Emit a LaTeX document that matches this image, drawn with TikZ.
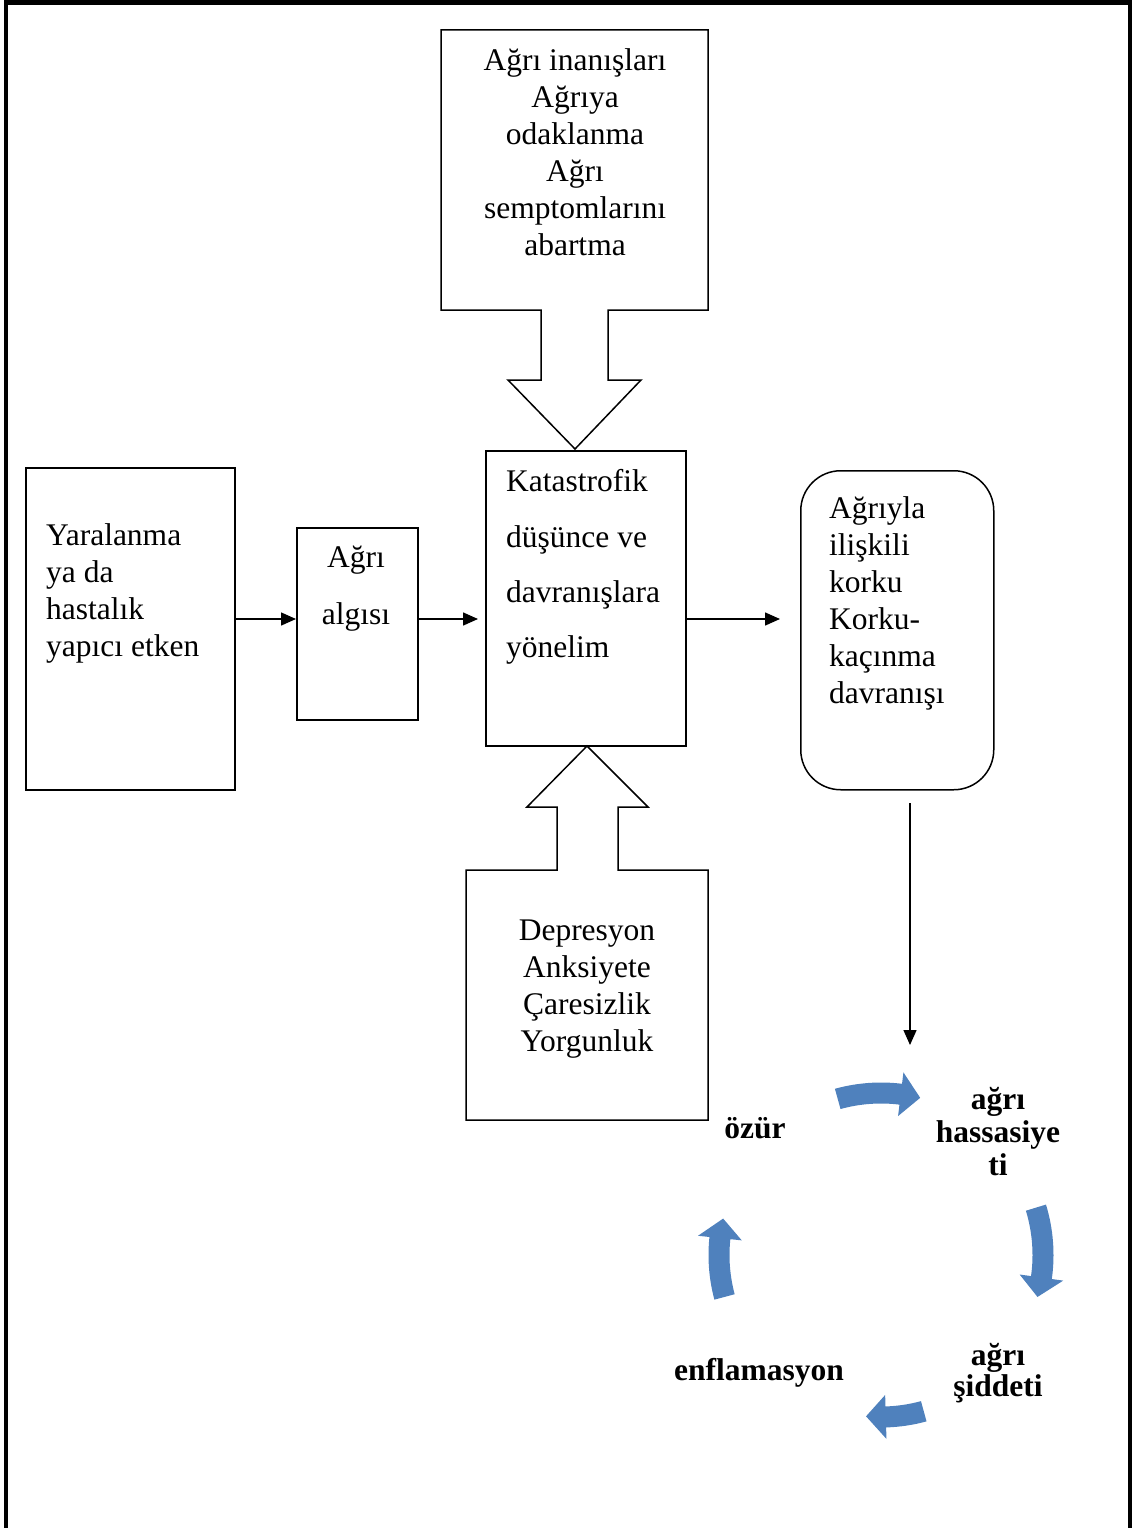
\documentclass[tikz,border=0pt]{standalone}
\usepackage{fontspec}
\setmainfont{Liberation Serif}
\usetikzlibrary{arrows.meta}
\definecolor{cycblue}{HTML}{4F81BD}
\newcommand{\cycarrow}[2]{%
  \fill[cycblue] ({#1}:172.5) arc[start angle={#1}, end angle={#2-7}, radius=172.5]
    -- ({#2-7}:184) -- ({#2}:162) -- ({#2-7}:140) -- ({#2-7}:151.5)
    arc[start angle={#2-7}, end angle={#1}, radius=151.5] -- cycle;}
\begin{document}
\begin{tikzpicture}[x=1pt,y=-1pt,
  box/.style={draw, line width=1.5pt, inner sep=0pt, anchor=north west},
  txt/.style={inner sep=0pt, font=\fontsize{31.5}{37}\selectfont},
  bld/.style={inner sep=0pt, align=center, font=\fontsize{31.5}{33}\selectfont\bfseries},
  conn/.style={line width=1.5pt, -{Triangle[length=15pt,width=13pt]}},
  blockarrow/.style={draw, line width=1.5pt, line join=miter}]
\useasboundingbox (0,0) rectangle (1132,1528);
% page frame (no bottom edge)
\draw[line width=4.5pt] (6,1528) -- (6,2.5) -- (1130,2.5) -- (1130,1528);

% boxes
\node[box, minimum width=209pt, minimum height=322pt] (injury) at (25,467) {};
\node[box, minimum width=121pt, minimum height=192pt] (perception) at (296,527) {};
\node[box, minimum width=200pt, minimum height=295pt] (central) at (485,450) {};
\node[box, rounded corners=40pt, minimum width=193pt, minimum height=319pt] (fear) at (800,470) {};

% top box with block arrow pointing down
\draw[blockarrow] (441,30) -- (708,30) -- (708,310) -- (608,310) -- (608,380) -- (641,380)
  -- (575,449) -- (508,380) -- (541,380) -- (541,310) -- (441,310) -- cycle;
% bottom box with block arrow pointing up
\draw[blockarrow] (466,1120) -- (466,870) -- (557,870) -- (557,807) -- (527,807)
  -- (587,746) -- (648,807) -- (618,807) -- (618,870) -- (708,870) -- (708,1120) -- cycle;

% texts
\node[txt, align=center] (beliefsT) at (575,152) {Ağrı inanışları\\Ağrıya\\odaklanma\\Ağrı\\semptomlarını\\abartma};
\node[txt, align=left, anchor=west] (injuryT) at (46,593) {Yaralanma\\ya da\\hastalık\\yapıcı etken};
\node[txt, align=center, font=\fontsize{31.5}{57}\selectfont] (perceptionT) at (356,589) {Ağrı\\algısı};
\node[txt, align=left, anchor=west, font=\fontsize{31.5}{55.3}\selectfont] (centralT) at (506,567) {Katastrofik\\düşünce ve\\davranışlara\\yönelim};
\node[txt, align=left, anchor=west] (fearT) at (829,603) {Ağrıyla\\ilişkili\\korku\\Korku-\\kaçınma\\davranışı};
\node[txt, align=center] (moodT) at (587,989) {Depresyon\\Anksiyete\\Çaresizlik\\Yorgunluk};

% connectors
\coordinate (arrowy) at (0,619);
\draw[conn] (injury.east |- arrowy) -- (perception.west |- arrowy);
\draw[conn] (perception.east |- arrowy) -- ([xshift=-7pt]central.west |- arrowy);
\draw[conn] (central.east |- arrowy) -- ([xshift=-20pt]fear.west |- arrowy);
\coordinate (vtop) at (910,803);
\coordinate (vbot) at (910,1045);
\draw[conn] (vtop) -- (vbot);

% cycle labels
\node[bld] (ozur) at (755,1128) {özür};
\node[bld] (hass) at (998,1132) {ağrı\\hassasiye\\ti};
\node[bld, font=\fontsize{31.5}{31}\selectfont\bfseries] (sidd) at (998,1373) {ağrı\\şiddeti};
\node[bld] (enfl) at (759,1373) {enflamasyon};

% cycle arrows
\begin{scope}[shift={(881,1255)}]
  \cycarrow{-105.5}{-76}
  \cycarrow{-17}{15}
  \cycarrow{74.7}{95.3}
  \cycarrow{165}{193}
\end{scope}
\end{tikzpicture}
\end{document}
